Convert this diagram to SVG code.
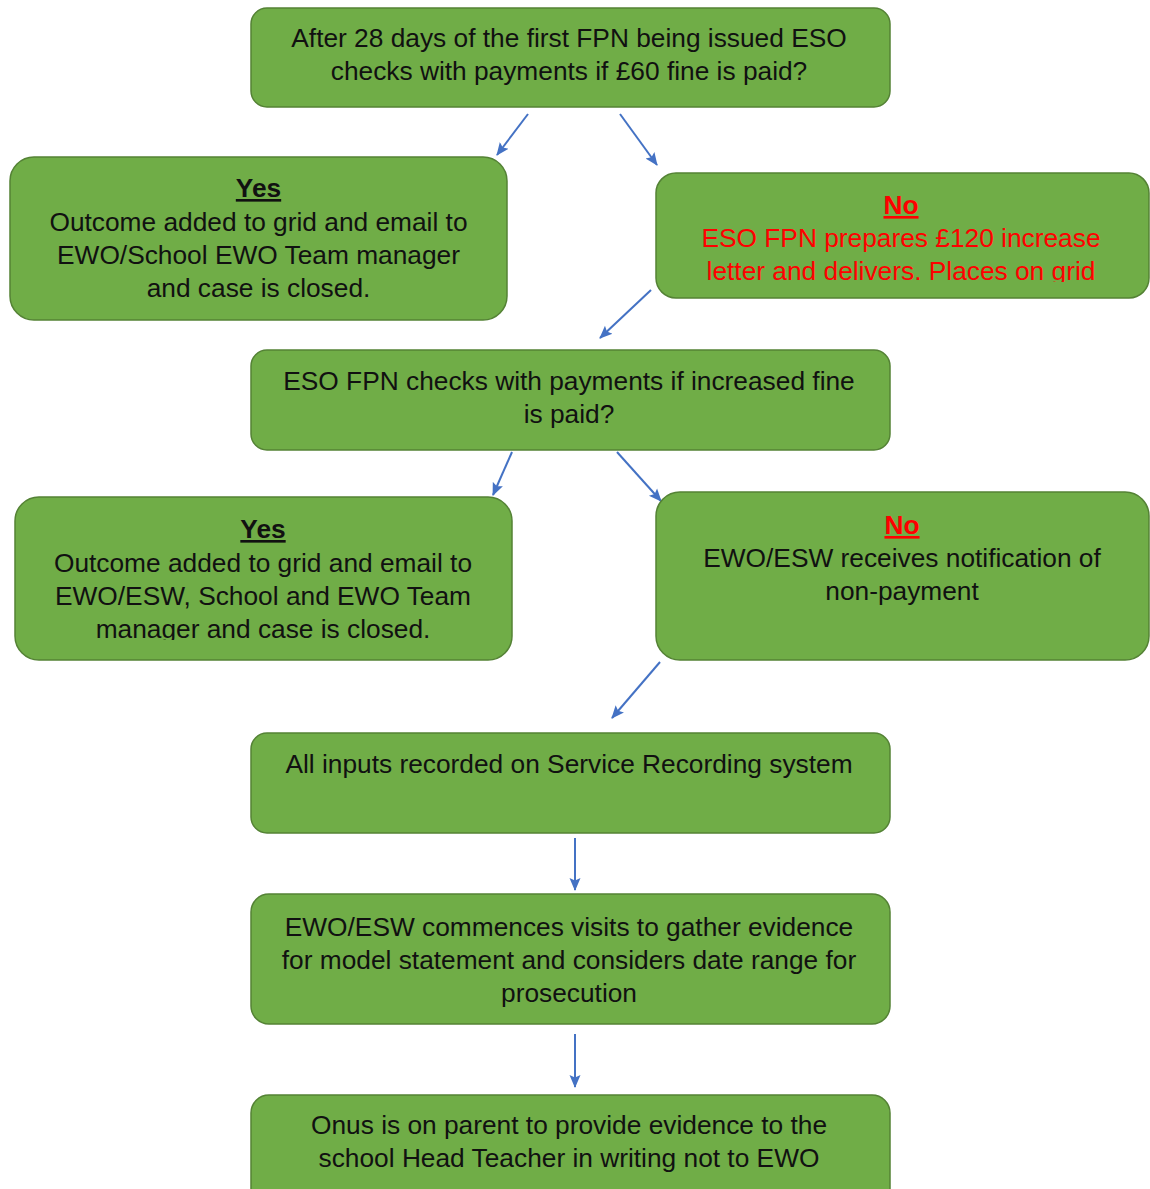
<svg xmlns="http://www.w3.org/2000/svg" width="1150" height="1189" viewBox="0 0 1150 1189">
<style>
.box{fill:#70AD47;stroke:#548235;stroke-width:1.5}
.t{font-family:"Liberation Sans",Arial,sans-serif;font-size:26.3px;fill:#111;text-anchor:middle}
.red{fill:#FF0000}
.h{font-weight:bold;text-decoration:underline}
.c{stroke:#4472C4;stroke-width:2;fill:none;marker-end:url(#ah)}
</style>
<defs>
<marker id="ah" markerUnits="userSpaceOnUse" markerWidth="13" markerHeight="13" viewBox="0 0 13 13" refX="12" refY="6.5" orient="auto">
<path d="M0,1 L13,6.5 L0,12 L2.5,6.5 Z" fill="#4472C4"/>
</marker>
<clipPath id="clipNo1"><rect x="650" y="170" width="500" height="112"/></clipPath>
<clipPath id="clipYes2"><rect x="10" y="495" width="510" height="145"/></clipPath>
</defs>
<rect width="1150" height="1189" fill="#fff"/>
<g id="connectors">
<line class="c" x1="528" y1="114" x2="497" y2="155"/>
<line class="c" x1="620" y1="114" x2="657" y2="165"/>
<line class="c" x1="651" y1="290" x2="600" y2="338"/>
<line class="c" x1="512" y1="452" x2="493" y2="495"/>
<line class="c" x1="617" y1="452" x2="661" y2="501"/>
<line class="c" x1="660" y1="662" x2="612" y2="718"/>
<line class="c" x1="575" y1="838" x2="575" y2="890"/>
<line class="c" x1="575" y1="1034" x2="575" y2="1087"/>
</g>
<g id="n1">
<rect class="box" x="251" y="8" width="639" height="99" rx="16"/>
<text class="t" x="569" y="47">After 28 days of the first FPN being issued ESO</text>
<text class="t" x="569" y="80">checks with payments if £60 fine is paid?</text>
</g>
<g id="yes1">
<rect class="box" x="10" y="157" width="497" height="163" rx="24"/>
<text class="t h" x="258.5" y="197">Yes</text>
<text class="t" x="258.5" y="231">Outcome added to grid and email to</text>
<text class="t" x="258.5" y="264">EWO/School EWO Team manager</text>
<text class="t" x="258.5" y="297">and case is closed.</text>
</g>
<g id="no1">
<rect class="box" x="656" y="173" width="493" height="125" rx="20"/>
<g clip-path="url(#clipNo1)">
<text class="t h red" x="901" y="214">No</text>
<text class="t red" x="901" y="247">ESO FPN prepares £120 increase</text>
<text class="t red" x="901" y="280">letter and delivers. Places on grid</text>
</g>
</g>
<g id="n3">
<rect class="box" x="251" y="350" width="639" height="100" rx="16"/>
<text class="t" x="569" y="390">ESO FPN checks with payments if increased fine</text>
<text class="t" x="569" y="423">is paid?</text>
</g>
<g id="yes2">
<rect class="box" x="15" y="497" width="497" height="163" rx="24"/>
<g clip-path="url(#clipYes2)">
<text class="t h" x="263" y="538">Yes</text>
<text class="t" x="263" y="572">Outcome added to grid and email to</text>
<text class="t" x="263" y="605">EWO/ESW, School and EWO Team</text>
<text class="t" x="263" y="638">manager and case is closed.</text>
</g>
</g>
<g id="no2">
<rect class="box" x="656" y="492" width="493" height="168" rx="24"/>
<text class="t h red" x="902" y="534">No</text>
<text class="t" x="902" y="567">EWO/ESW receives notification of</text>
<text class="t" x="902" y="600">non-payment</text>
</g>
<g id="n5">
<rect class="box" x="251" y="733" width="639" height="100" rx="16"/>
<text class="t" x="569" y="773">All inputs recorded on Service Recording system</text>
</g>
<g id="n6">
<rect class="box" x="251" y="894" width="639" height="130" rx="18"/>
<text class="t" x="569" y="936">EWO/ESW commences visits to gather evidence</text>
<text class="t" x="569" y="969">for model statement and considers date range for</text>
<text class="t" x="569" y="1002">prosecution</text>
</g>
<g id="n7">
<rect class="box" x="251" y="1095" width="639" height="120" rx="18"/>
<text class="t" x="569" y="1134">Onus is on parent to provide evidence to the</text>
<text class="t" x="569" y="1167">school Head Teacher in writing not to EWO</text>
</g>
</svg>
